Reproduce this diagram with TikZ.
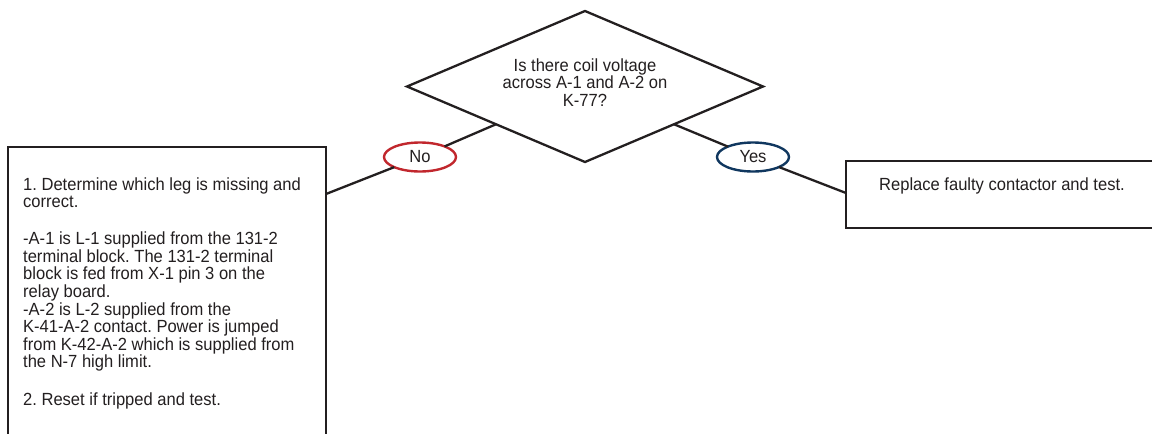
\documentclass[tikz,border=0pt]{standalone}
\usepackage{fontspec}
\setmainfont[FakeStretch=0.94]{Liberation Sans}
\usetikzlibrary{shapes.geometric}
\definecolor{ink}{RGB}{35,31,32}
\definecolor{nored}{RGB}{193,39,45}
\definecolor{yesblue}{RGB}{16,55,95}
\tikzset{
  txt/.style={inner sep=0pt, text=ink, font=\frenchspacing\fontsize{17.6}{17.6}\selectfont},
  box/.style={draw=ink, line width=2pt},
  conn/.style={draw=ink, line width=2.3pt},
  answer/.style={ellipse, draw, line width=2.4pt, minimum width=72pt, minimum height=29pt, inner sep=0pt, outer sep=0pt, text=ink, font=\fontsize{17.6}{17.6}\selectfont},
}
\begin{document}
\begin{tikzpicture}[x=1pt,y=-1pt]
\useasboundingbox (0,0) rectangle (1152,434);
\clip (0,0) rectangle (1152,434);
\fill[white] (0,0) rectangle (1152,434);
% decision diamond
\node[diamond, draw=ink, line width=2.3pt, aspect=2.36, minimum width=356pt, minimum height=151pt, inner sep=0pt, outer sep=0pt] (dia) at (585,86.5) {};
\node[txt, align=center, anchor=north] (q) at (585,58.4) {Is there coil voltage\\across A-1 and A-2 on\\K-77?};
% left box
\draw[box] (8,450) -- (8,147) -- (326,147) -- (326,450);
\coordinate (lj) at (326,194);
\node[txt, align=left, anchor=north west] (ltext) at (23,177.4) {1. Determine which leg is missing and\\correct.\\[19.2pt]-A-1 is L-1 supplied from the 131-2\\terminal block. The 131-2 terminal\\block is fed from X-1 pin 3 on the\\relay board.\\-A-2 is L-2 supplied from the\\K-41-A-2 contact. Power is jumped\\from K-42-A-2 which is supplied from\\the N-7 high limit.\\[19.6pt]2. Reset if tripped and test.};
% right box
\draw[box] (1160,161) -- (846,161) -- (846,228) -- (1160,228);
\coordinate (rj) at (846,193);
\node[txt, anchor=base west] (rtext) at (879,190) {Replace faulty contactor and test.};
% answers
\node[answer, draw=nored] (no) at (420,157) {No};
\node[answer, draw=yesblue] (yes) at (753,157) {Yes};
% connectors
\draw[conn] (lj) -- (no);
\draw[conn] (no) -- (dia.south west);
\draw[conn] (dia.south east) -- (yes);
\draw[conn] (yes) -- (rj);
\end{tikzpicture}
\end{document}
